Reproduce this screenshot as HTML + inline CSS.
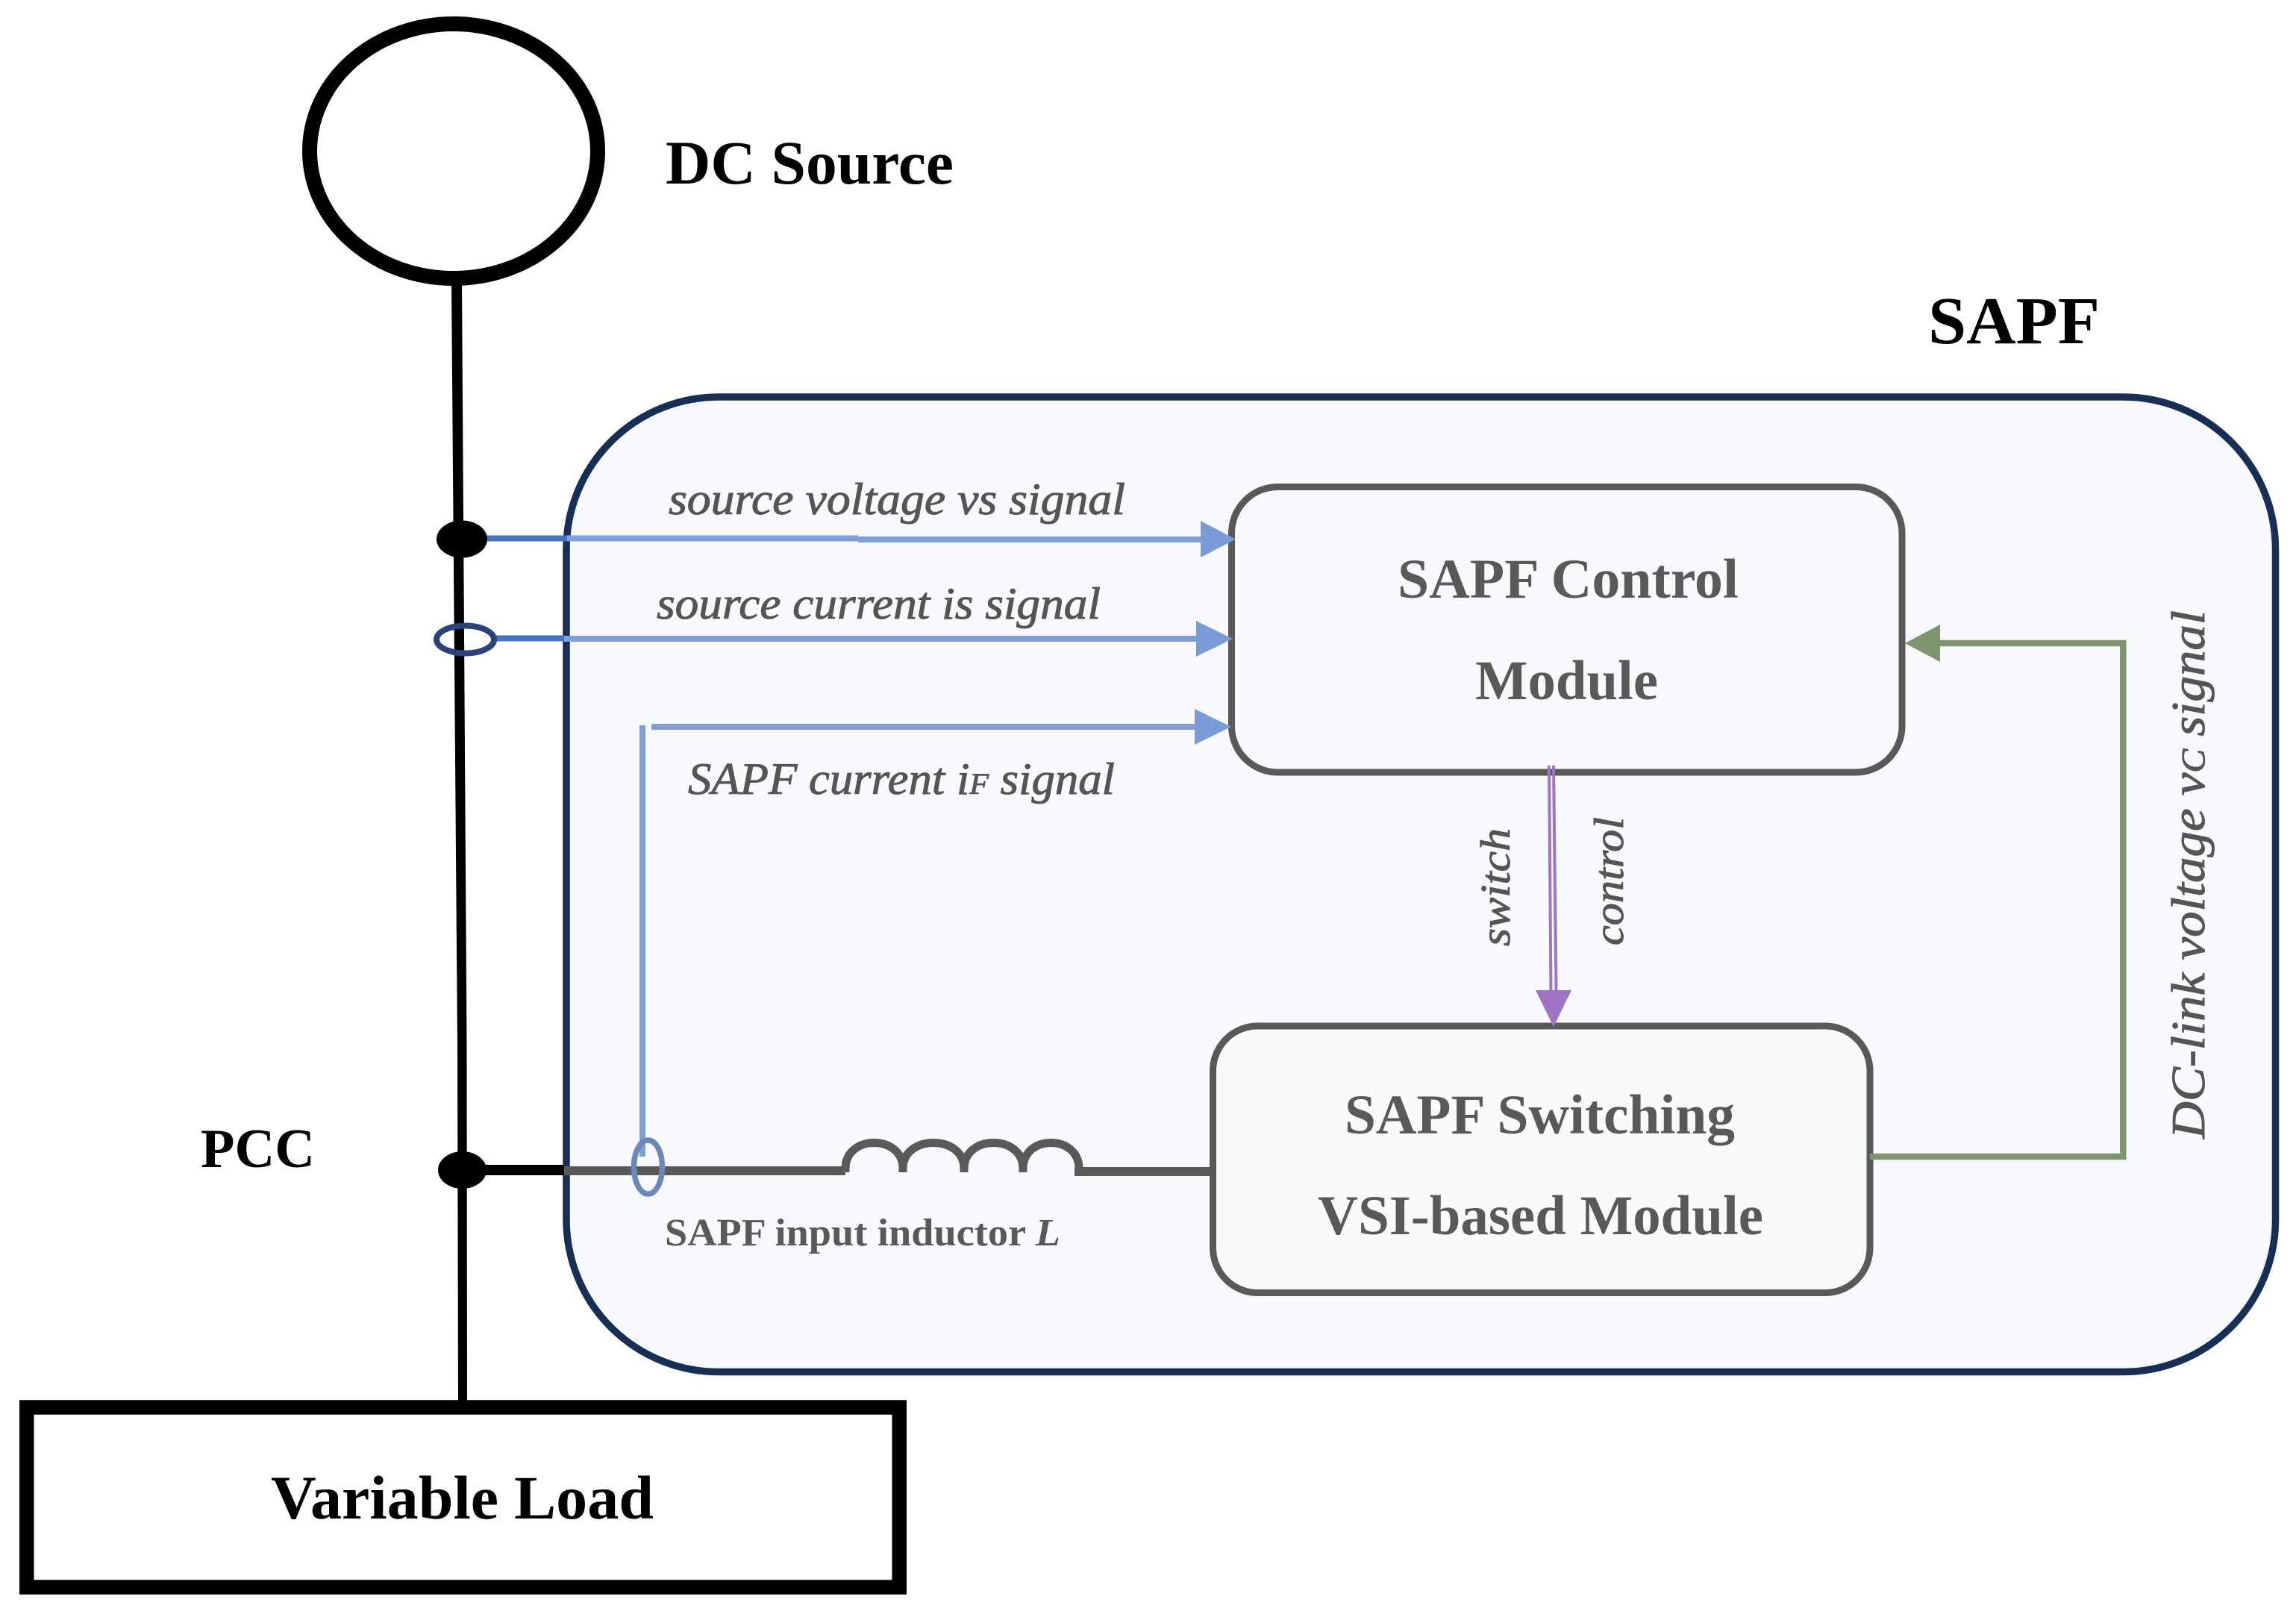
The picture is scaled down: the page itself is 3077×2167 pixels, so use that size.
<!DOCTYPE html>
<html lang="en">
<head>
<meta charset="utf-8">
<title>SAPF diagram</title>
<style>
html,body{margin:0;padding:0;background:#fff;width:3077px;height:2167px;overflow:hidden}
svg{display:block}
text{font-family:"Liberation Serif",serif}
.b{font-weight:700;fill:#000}
.g{font-weight:700;fill:#595959}
.i{font-style:italic;fill:#555;stroke:#555;stroke-width:1}
</style>
</head>
<body>
<svg width="3077" height="2167" viewBox="0 0 3077 2167" xmlns="http://www.w3.org/2000/svg">
<rect width="3077" height="2167" fill="#fff"/>

<!-- panel -->
<rect x="759" y="532" width="2290.5" height="1306.5" rx="204" ry="204" fill="#f7f9fc" stroke="#172e55" stroke-width="9.5"/>

<!-- DC source + bus -->
<ellipse cx="608" cy="202.5" rx="193" ry="170.5" fill="#fff" stroke="#000" stroke-width="20"/>
<polygon points="605,378 619,378 625.5,1400 626,1880 614,1880 613,1400" fill="#000"/>

<!-- Load -->
<rect x="35.75" y="1886" width="1169.5" height="241" fill="#fff" stroke="#000" stroke-width="19.5"/>

<!-- blue signal lines -->
<line x1="646" y1="721.5" x2="760" y2="721.5" stroke="#4472c4" stroke-width="8"/>
<line x1="760" y1="721.5" x2="1150" y2="721.5" stroke="#7f9fd9" stroke-width="8"/>
<line x1="1150" y1="723" x2="1612" y2="723" stroke="#7f9fd9" stroke-width="8"/>

<line x1="660" y1="855.5" x2="756" y2="855.5" stroke="#4472c4" stroke-width="8"/>
<line x1="756" y1="856" x2="1605" y2="856" stroke="#7f9fd9" stroke-width="8"/>

<line x1="873" y1="974" x2="1605" y2="974" stroke="#7f9fd9" stroke-width="8"/>
<line x1="861" y1="972" x2="861" y2="1550" stroke="#7f9fd9" stroke-width="8"/>

<!-- nodes -->
<ellipse cx="619" cy="722.5" rx="34" ry="25" fill="#000"/>
<ellipse cx="623.5" cy="857" rx="38.5" ry="18.5" fill="none" stroke="#2a4478" stroke-width="8"/>
<ellipse cx="619.5" cy="1568" rx="32.5" ry="25" fill="#000"/>

<!-- PCC branch + inductor -->
<line x1="650" y1="1568" x2="756" y2="1568" stroke="#000" stroke-width="14"/>
<line x1="756" y1="1569" x2="1133" y2="1569" stroke="#595959" stroke-width="12"/>
<path d="M1133 1571V1566C1133 1520 1210 1520 1210 1566V1571M1210 1566C1210 1520 1292 1520 1292 1566V1571M1292 1566C1292 1520 1371 1520 1371 1566V1571M1371 1566C1371 1520 1446 1520 1446 1566V1571" fill="none" stroke="#595959" stroke-width="11"/>
<line x1="1440" y1="1570" x2="1626" y2="1570" stroke="#595959" stroke-width="12"/>
<ellipse cx="868.5" cy="1564" rx="19" ry="36" fill="none" stroke="#6b88b8" stroke-width="7.5"/>

<!-- modules -->
<rect x="1650.5" y="652.5" width="898.5" height="382.5" rx="62" ry="62" fill="#f7f9fc" stroke="#595959" stroke-width="9"/>
<rect x="1625.5" y="1375" width="880.5" height="357.5" rx="60" ry="60" fill="#f8fafc" stroke="#595959" stroke-width="9"/>

<!-- arrowheads above the boxes -->
<polygon points="1609,698 1656,722.7 1609,747" fill="#7b9bd8"/>
<polygon points="1603,832 1652,856 1603,880" fill="#7b9bd8"/>
<polygon points="1601,950 1650,974 1601,998" fill="#7b9bd8"/>

<!-- purple double line -->
<line x1="2076" y1="1026" x2="2078.5" y2="1330" stroke="#a074c4" stroke-width="4"/>
<line x1="2082" y1="1026" x2="2085.5" y2="1330" stroke="#a074c4" stroke-width="4"/>
<polygon points="2058,1327 2106,1327 2082,1376" fill="#a074c4"/>

<!-- green feedback -->
<polyline points="2506,1550 2845.3,1550 2845.3,862 2598,862" fill="none" stroke="#7e9570" stroke-width="8.5"/>
<polygon points="2553,862 2600,837 2600,887" fill="#7e9570"/>

<!-- black labels -->
<text class="b" x="892" y="246" font-size="83" textLength="386" lengthAdjust="spacingAndGlyphs">DC Source</text>
<text class="b" x="2584" y="460" font-size="90" textLength="230" lengthAdjust="spacingAndGlyphs">SAPF</text>
<text class="b" x="269" y="1564" font-size="74" textLength="153" lengthAdjust="spacingAndGlyphs">PCC</text>
<text class="b" x="363" y="2035" font-size="83" textLength="513" lengthAdjust="spacingAndGlyphs">Variable Load</text>

<!-- module labels -->
<text class="g" x="1873" y="801" font-size="75" textLength="457" lengthAdjust="spacingAndGlyphs">SAPF Control</text>
<text class="g" x="1977" y="937" font-size="75" textLength="245" lengthAdjust="spacingAndGlyphs">Module</text>
<text class="g" x="1802" y="1519" font-size="75" textLength="523" lengthAdjust="spacingAndGlyphs">SAPF Switching</text>
<text class="g" x="1766" y="1654" font-size="75" textLength="597" lengthAdjust="spacingAndGlyphs">VSI-based Module</text>
<text class="g" x="891" y="1669" font-size="52" textLength="530" lengthAdjust="spacingAndGlyphs">SAPF input inductor <tspan font-style="italic">L</tspan></text>

<!-- italic labels -->
<text class="i" x="896" y="689" font-size="60" textLength="612" lengthAdjust="spacingAndGlyphs">source voltage vs signal</text>
<text class="i" x="880" y="829" font-size="60" textLength="595" lengthAdjust="spacingAndGlyphs">source current is signal</text>
<text class="i" x="922" y="1064" font-size="60" textLength="572" lengthAdjust="spacingAndGlyphs">SAPF current i<tspan font-size="40">F</tspan> signal</text>
<text class="i" transform="translate(2023 1268) rotate(-90)" x="0" y="0" font-size="56" textLength="158" lengthAdjust="spacingAndGlyphs">switch</text>
<text class="i" transform="translate(2175 1267) rotate(-90)" x="0" y="0" font-size="56" textLength="172" lengthAdjust="spacingAndGlyphs">control</text>
<text class="i" transform="translate(2954 1526) rotate(-90)" x="0" y="0" font-size="64" textLength="708" lengthAdjust="spacingAndGlyphs">DC-link voltage v<tspan font-size="44">C</tspan> signal</text>
</svg>
</body>
</html>
